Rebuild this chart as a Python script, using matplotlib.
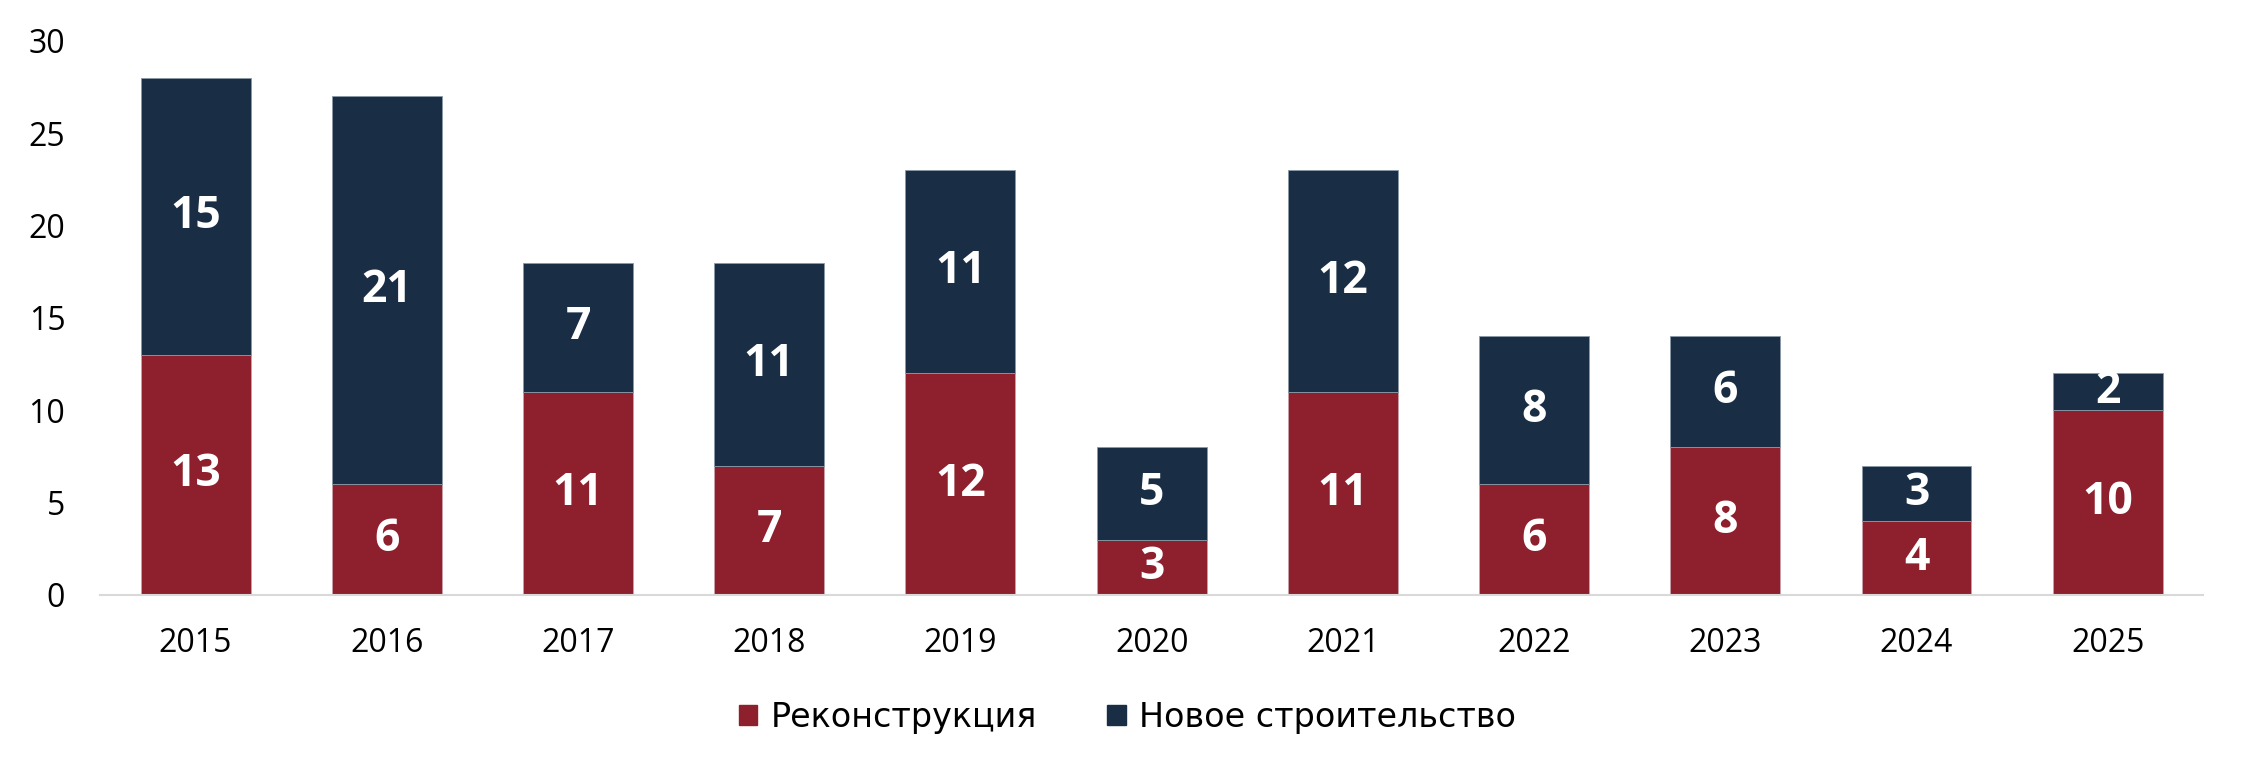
import matplotlib
matplotlib.use("Agg")
import matplotlib.pyplot as plt
import matplotlib.patches as mpatches
import numpy as np

plt.rcParams['font.family'] = ['Open Sans', 'DejaVu Sans']

# data
years = ["2015", "2016", "2017", "2018", "2019", "2020", "2021", "2022", "2023", "2024", "2025"]
reconstruction = [13, 6, 11, 7, 12, 3, 11, 6, 8, 4, 10]
new_build = [15, 21, 7, 11, 11, 5, 12, 8, 6, 3, 2]
series_names = ["Реконструкция", "Новое строительство"]

red = "#8E1F2C"
navy = "#192E45"

fig = plt.figure(figsize=(22.46, 7.72), dpi=100)
ax = fig.add_axes([0.0445, 0.2293, 0.9365, 0.7176])

x = np.arange(len(years))
w = 0.575
b1 = ax.bar(x, reconstruction, w, color=red, edgecolor="#c9a0a6", linewidth=0.6)
b2 = ax.bar(x, new_build, w, bottom=reconstruction, color=navy, edgecolor="#8a99a8", linewidth=0.6)

# value labels inside each segment
for rect, v in zip(b1, reconstruction):
    ax.text(rect.get_x() + rect.get_width() / 2, rect.get_y() + v / 2, str(v),
            ha="center", va="center", color="white", fontsize=32, fontweight="bold")
for rect, v, base in zip(b2, new_build, reconstruction):
    ax.text(rect.get_x() + rect.get_width() / 2, base + v / 2, str(v),
            ha="center", va="center", color="white", fontsize=32, fontweight="bold")

ax.set_xlim(-0.5, len(years) - 0.5)
ax.set_ylim(0, 30)
ax.set_yticks([0, 5, 10, 15, 20, 25, 30])
ax.set_xticks(x)
ax.set_xticklabels(years)
ax.tick_params(axis="y", length=0, pad=25, labelsize=23)
ax.tick_params(axis="x", length=0, pad=23, labelsize=23)

for s in ["top", "right", "left"]:
    ax.spines[s].set_visible(False)
ax.spines["bottom"].set_color("#d9d9d9")
ax.spines["bottom"].set_linewidth(1.5)

handles = [mpatches.Patch(color=red, label=series_names[0]),
           mpatches.Patch(color=navy, label=series_names[1])]
fig.legend(handles=handles, loc="center", bbox_to_anchor=(0.502, 0.071), ncol=2,
           frameon=False, prop={"family": "DejaVu Sans", "size": 24},
           handlelength=0.55, handleheight=0.55,
           handletextpad=0.4, columnspacing=2.1)

fig.savefig("out.png", dpi=100)
